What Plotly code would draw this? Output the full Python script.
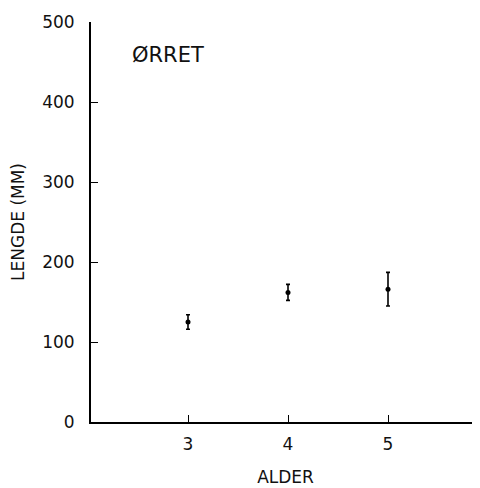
import plotly.graph_objects as go

ages = [3, 4, 5]
mean_length = [125, 162, 166]
err_length = [9, 10, 21]
y_ticks = [0, 100, 200, 300, 400, 500]
x_ticks = [3, 4, 5]

fig = go.Figure()
fig.add_trace(go.Scatter(
    x=ages, y=mean_length, mode="markers",
    marker=dict(color="black", size=5),
    error_y=dict(type="data", array=err_length, visible=True,
                 color="black", thickness=1.6, width=2),
    showlegend=False,
))

font = dict(family="DejaVu Sans, sans-serif", color="#111", size=17)

fig.update_layout(
    width=472, height=480,
    margin=dict(l=83, r=0, t=14, b=66),
    paper_bgcolor="white", plot_bgcolor="white",
    font=font,
    xaxis=dict(range=[2.03, 5.92], tickvals=x_ticks, ticks="inside", ticklen=7,
               tickcolor="black", tickwidth=1.3, showline=True, linecolor="black",
               linewidth=1.5, showgrid=False, zeroline=False,
               ticklabelstandoff=6,
               title=dict(text="ALDER", font=dict(size=17), standoff=18),
               tickfont=dict(size=17)),
    yaxis=dict(range=[0, 500], tickvals=y_ticks, ticks="inside", ticklen=7,
               tickcolor="black", tickwidth=1.3, showline=True, linecolor="black",
               linewidth=1.8, showgrid=False, zeroline=False,
               ticklabelstandoff=11,
               title=dict(text="LENGDE (MM)", font=dict(size=17), standoff=14),
               tickfont=dict(size=17)),
    annotations=[dict(text="ØRRET", x=0.1, y=0.9175, xref="paper", yref="paper",
                      xanchor="left", yanchor="middle", showarrow=False,
                      font=dict(size=21, color="#111"))],
)

fig.write_html("out.html")
